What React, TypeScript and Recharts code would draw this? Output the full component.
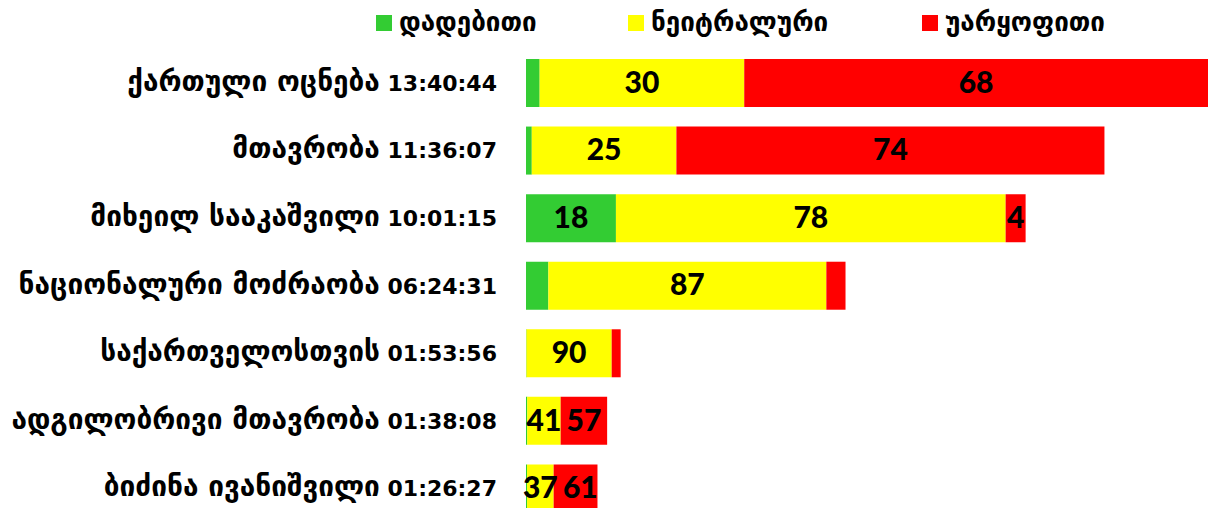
import { BarChart, Bar, XAxis, YAxis, LabelList } from "recharts";

const parties = [
  "ქართული ოცნება",
  "მთავრობა",
  "მიხეილ სააკაშვილი",
  "ნაციონალური მოძრაობა",
  "საქართველოსთვის",
  "ადგილობრივი მთავრობა",
  "ბიძინა ივანიშვილი",
];
const airtime = ["13:40:44", "11:36:07", "10:01:15", "06:24:31", "01:53:56", "01:38:08", "01:26:27"];

// percentages of the airtime
const positive = [2, 1, 18, 7, 0.5, 1.5, 1.5];
const neutral = [30, 25, 78, 87, 90, 41, 37];
const negative = [68, 74, 4, 6, 9.5, 57, 61];

// labels Excel actually printed (null = not shown)
const positiveLabels = [null, null, 18, null, null, null, null];
const neutralLabels = [30, 25, 78, 87, 90, 41, 37];
const negativeLabels = [68, 74, 4, null, null, 57, 61];

const toSeconds = (t: string) => {
  const [h, m, s] = t.split(":").map(Number);
  return h * 3600 + m * 60 + s;
};

const data = parties.map((p, i) => {
  const total = toSeconds(airtime[i]);
  return {
    name: p,
    time: airtime[i],
    pos: (positive[i] / 100) * total,
    neu: (neutral[i] / 100) * total,
    neg: (negative[i] / 100) * total,
    posLabel: positiveLabels[i],
    neuLabel: neutralLabels[i],
    negLabel: negativeLabels[i],
  };
});

const COLORS = { pos: "#33CC33", neu: "#FFFF00", neg: "#FF0000" };
const GEO = "'DejaVu Sans', sans-serif";

const makeLabel = (nudgeNarrow: boolean) => (props: any) => {
  const { x, y, width, height, value } = props;
  if (value === null || value === undefined) return null;
  // two-digit label in a slightly too narrow segment: push it right a bit
  const dx = nudgeNarrow && width > 30 && width < 45 ? (45 - width) * 4 : 0;
  return (
    <text
      x={x + width / 2 + dx}
      y={y + height / 2 + 2}
      textAnchor="middle"
      dominantBaseline="middle"
      fontFamily="Lato, sans-serif"
      fontWeight={900}
      fontSize={30}
      fill="#000"
    >
      {value}
    </text>
  );
};

const CategoryTick = (props: any) => {
  const { x, y, payload } = props;
  const row = data[payload.index];
  return (
    <text x={x} y={y} textAnchor="end" dy={8} fill="#000" fontFamily={GEO} fontWeight="bold">
      <tspan fontSize={28}>{row.name}</tspan>
      <tspan fontSize={22}> {row.time}</tspan>
    </text>
  );
};

const legendItems = [
  { label: "დადებითი", color: COLORS.pos, x: 376 },
  { label: "ნეიტრალური", color: COLORS.neu, x: 628 },
  { label: "უარყოფითი", color: COLORS.neg, x: 922 },
];

export default function App() {
  return (
    <div style={{ position: "absolute", left: 0, top: 0, width: 1208, height: 508, overflow: "hidden", background: "#fff" }}>
      <svg width={1208} height={45} style={{ position: "absolute", left: 0, top: 0 }}>
        {legendItems.map((it) => (
          <g key={it.label}>
            <rect x={it.x} y={15} width={16} height={16} fill={it.color} />
            <text x={it.x + 23} y={31} fontFamily={GEO} fontWeight="bold" fontSize={26} fill="#000">
              {it.label}
            </text>
          </g>
        ))}
      </svg>
      <BarChart
        width={1208}
        height={522}
        data={data}
        layout="vertical"
        margin={{ top: 49, right: 0, bottom: 0, left: 0 }}
        barSize={48}
      >
        <XAxis type="number" hide domain={[0, "dataMax"]} />
        <YAxis
          type="category"
          dataKey="name"
          width={526}
          axisLine={false}
          tickLine={false}
          tickSize={0}
          tickMargin={29}
          interval={0}
          tick={<CategoryTick />}
        />
        <Bar dataKey="pos" stackId="a" fill={COLORS.pos} isAnimationActive={false}>
          <LabelList dataKey="posLabel" content={makeLabel(false)} />
        </Bar>
        <Bar dataKey="neu" stackId="a" fill={COLORS.neu} isAnimationActive={false}>
          <LabelList dataKey="neuLabel" content={makeLabel(false)} />
        </Bar>
        <Bar dataKey="neg" stackId="a" fill={COLORS.neg} isAnimationActive={false}>
          <LabelList dataKey="negLabel" content={makeLabel(true)} />
        </Bar>
      </BarChart>
    </div>
  );
}
